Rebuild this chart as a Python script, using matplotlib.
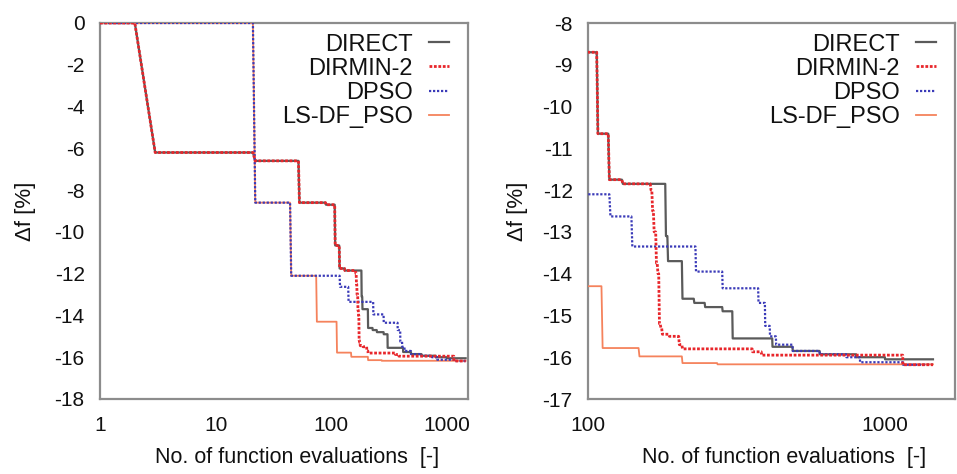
import matplotlib
matplotlib.use("Agg")
import matplotlib.pyplot as plt

plt.rcParams['font.family'] = ['Liberation Sans', 'DejaVu Sans']
plt.rcParams['axes.unicode_minus'] = False

# ---- data: evaluation number at which the best value changes, and the new value ----
direct_n = [1, 3, 22, 53, 90, 108, 118, 131, 183, 186, 208, 228, 248, 284, 307, 418, 489, 603, 800, 1000, 1450]
direct_v = [0, -6.2, -6.6, -8.6, -8.7, -10.65, -11.75, -11.85, -13.1, -13.7, -14.6, -14.7, -14.8, -14.9,
            -15.55, -15.75, -15.85, -15.93, -16.0, -16.05, -16.05]

dirmin_n = [1, 3, 22, 53, 90, 108, 118, 131, 163, 165, 167, 170, 172, 174, 176, 178, 188, 203, 208,
            358, 384, 1148, 1450]
dirmin_v = [0, -6.2, -6.6, -8.6, -8.7, -10.65, -11.75, -11.85, -12.0, -12.5, -13.0, -13.75, -14.0, -15.2,
            -15.3, -15.45, -15.5, -15.7, -15.8, -15.87, -15.95, -16.18, -16.18]

dpso_n = [1, 22, 45, 119, 141, 231, 284, 375, 395, 410, 430, 489, 603, 741, 824, 1150, 1450]
dpso_v = [0, -8.6, -12.1, -12.63, -13.35, -13.95, -14.35, -14.7, -15.25, -15.5, -15.7, -15.85, -15.93,
          -16.0, -16.12, -16.18, -16.18]

lsdf_n = [1, 22, 45, 75, 112, 149, 208, 273, 1450]
lsdf_v = [0, -8.6, -12.1, -14.3, -15.78, -15.98, -16.14, -16.17, -16.17]

series = [
    ("DIRECT", direct_n, direct_v),
    ("DIRMIN-2", dirmin_n, dirmin_v),
    ("DPSO", dpso_n, dpso_v),
    ("LS-DF_PSO", lsdf_n, lsdf_v),
]

styles = {
    "DIRECT": dict(color="#5a5a5a", lw=1.6, ls="-", zorder=2),
    "DIRMIN-2": dict(color="#e8262b", lw=2.0, ls=(0, (1.0, 0.6)), zorder=5),
    "DPSO": dict(color="#3a3ab8", lw=1.6, ls=(0, (1.0, 0.8)), zorder=4),
    "LS-DF_PSO": dict(color="#f5825c", lw=1.3, ls="-", zorder=3),
}

left_yticks = list(range(-18, 1, 2))
right_yticks = list(range(-17, -7, 1))
left_xticks = [1, 10, 100, 1000]
right_xticks = [100, 1000]


def staircase(n, v):
    xs, ys = [n[0]], [v[0]]
    for k in range(1, len(n)):
        xs += [n[k] - 1, n[k]]
        ys += [v[k - 1], v[k]]
    return xs, ys


fig = plt.figure(figsize=(9.57, 4.74), dpi=100)
W, H = 957, 474
ax1 = fig.add_axes([100 / W, 1 - 399 / H, 368 / W, 376 / H])
ax2 = fig.add_axes([588 / W, 1 - 399 / H, 367 / W, 376 / H])

frame_col = "#8c8c8c"
for ax, xlim, ylim, xt, yt, ylx, axw in [
    (ax1, (1, 1520), (-18, 0), left_xticks, left_yticks, -0.174, 368),
    (ax2, (100, 1720), (-17, -8), right_xticks, right_yticks, -0.163, 367),
]:
    for name, n, v in series:
        xs, ys = staircase(n, v)
        ax.plot(xs, ys, label=name, **styles[name])
    ax.set_xscale("log")
    ax.set_xlim(*xlim)
    ax.set_ylim(*ylim)
    ax.set_xticks(xt)
    ax.set_xticklabels([str(t) for t in xt])
    ax.minorticks_off()
    ax.set_yticks(yt)
    ax.set_yticklabels([str(t) for t in yt])
    ax.tick_params(axis="both", length=0, labelsize=15, labelcolor="#111111")
    ax.tick_params(axis="y", pad=11)
    ax.tick_params(axis="x", pad=12)
    for s in ax.spines.values():
        s.set_color(frame_col)
        s.set_linewidth(1.6)
    ax.set_xlabel("No. of function evaluations  [-]", fontsize=15.5, color="#111111")
    ax.xaxis.set_label_coords(0.535, -0.128)
    ax.set_ylabel("Δf [%]", fontsize=16, color="#111111")
    ax.yaxis.set_label_coords(ylx, 0.5)
    handles, labels = ax.get_legend_handles_labels()
    leg = ax.legend(handles, labels, loc="upper right", bbox_to_anchor=(1 - 8 / axw, 1.0),
                    frameon=False, markerfirst=False,
                    fontsize=17, handlelength=0.85, handletextpad=0.7, labelspacing=0.09,
                    borderaxespad=0.25, borderpad=0.2)
    for t in leg.get_texts():
        t.set_color("#111111")

fig.savefig("out.png", dpi=100)
